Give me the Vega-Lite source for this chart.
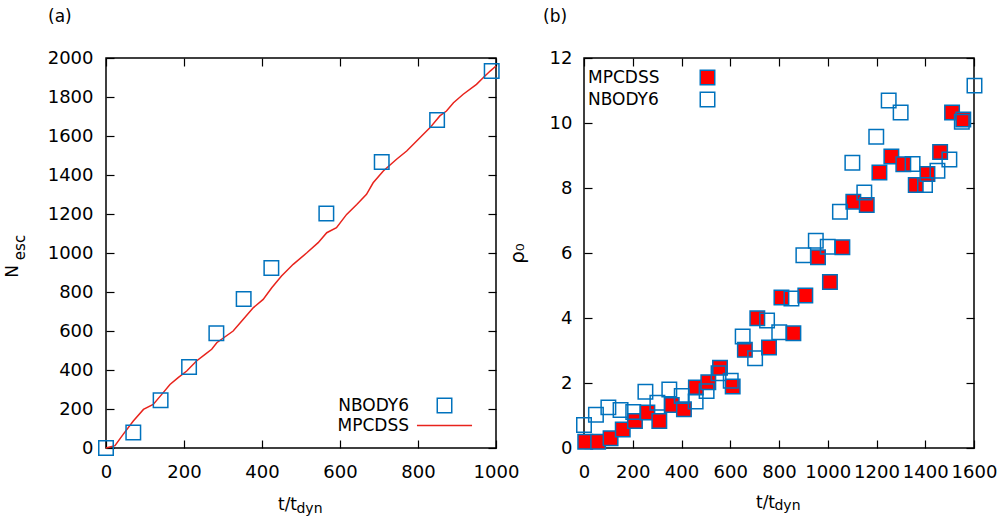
{
  "$schema": "https://vega.github.io/schema/vega-lite/v6.json",
  "autosize": {"type": "pad"},
  "padding": {"left": 2, "top": 7, "right": 5, "bottom": 0},
  "background": "white",
  "spacing": 88,
  "bounds": "flush",
  "datasets": {
    "a_line": [
      {"t": 0, "n": 0, "series": "MPCDSS"},
      {"t": 23, "n": 12, "series": "MPCDSS"},
      {"t": 44, "n": 70, "series": "MPCDSS"},
      {"t": 70, "n": 138, "series": "MPCDSS"},
      {"t": 96, "n": 198, "series": "MPCDSS"},
      {"t": 121, "n": 223, "series": "MPCDSS"},
      {"t": 143, "n": 275, "series": "MPCDSS"},
      {"t": 164, "n": 326, "series": "MPCDSS"},
      {"t": 185, "n": 361, "series": "MPCDSS"},
      {"t": 207, "n": 395, "series": "MPCDSS"},
      {"t": 232, "n": 446, "series": "MPCDSS"},
      {"t": 254, "n": 480, "series": "MPCDSS"},
      {"t": 271, "n": 506, "series": "MPCDSS"},
      {"t": 284, "n": 540, "series": "MPCDSS"},
      {"t": 326, "n": 600, "series": "MPCDSS"},
      {"t": 352, "n": 660, "series": "MPCDSS"},
      {"t": 378, "n": 720, "series": "MPCDSS"},
      {"t": 403, "n": 762, "series": "MPCDSS"},
      {"t": 425, "n": 822, "series": "MPCDSS"},
      {"t": 450, "n": 882, "series": "MPCDSS"},
      {"t": 480, "n": 942, "series": "MPCDSS"},
      {"t": 515, "n": 1001, "series": "MPCDSS"},
      {"t": 544, "n": 1053, "series": "MPCDSS"},
      {"t": 566, "n": 1104, "series": "MPCDSS"},
      {"t": 591, "n": 1130, "series": "MPCDSS"},
      {"t": 617, "n": 1198, "series": "MPCDSS"},
      {"t": 643, "n": 1249, "series": "MPCDSS"},
      {"t": 668, "n": 1301, "series": "MPCDSS"},
      {"t": 685, "n": 1360, "series": "MPCDSS"},
      {"t": 711, "n": 1421, "series": "MPCDSS"},
      {"t": 745, "n": 1481, "series": "MPCDSS"},
      {"t": 771, "n": 1523, "series": "MPCDSS"},
      {"t": 801, "n": 1583, "series": "MPCDSS"},
      {"t": 831, "n": 1643, "series": "MPCDSS"},
      {"t": 856, "n": 1703, "series": "MPCDSS"},
      {"t": 873, "n": 1728, "series": "MPCDSS"},
      {"t": 891, "n": 1771, "series": "MPCDSS"},
      {"t": 916, "n": 1814, "series": "MPCDSS"},
      {"t": 950, "n": 1865, "series": "MPCDSS"},
      {"t": 967, "n": 1899, "series": "MPCDSS"},
      {"t": 985, "n": 1933, "series": "MPCDSS"},
      {"t": 1000, "n": 1959, "series": "MPCDSS"}
    ],
    "a_pts": [
      {"t": 0, "n": 0, "series": "NBODY6"},
      {"t": 70, "n": 80, "series": "NBODY6"},
      {"t": 140, "n": 245, "series": "NBODY6"},
      {"t": 213, "n": 415, "series": "NBODY6"},
      {"t": 283, "n": 588, "series": "NBODY6"},
      {"t": 353, "n": 764, "series": "NBODY6"},
      {"t": 424, "n": 923, "series": "NBODY6"},
      {"t": 565, "n": 1203, "series": "NBODY6"},
      {"t": 707, "n": 1467, "series": "NBODY6"},
      {"t": 849, "n": 1682, "series": "NBODY6"},
      {"t": 989, "n": 1933, "series": "NBODY6"}
    ],
    "b_pts": [
      {"t": 5, "rho": 0.19, "series": "MPCDSS"},
      {"t": 58, "rho": 0.19, "series": "MPCDSS"},
      {"t": 109, "rho": 0.30, "series": "MPCDSS"},
      {"t": 159, "rho": 0.57, "series": "MPCDSS"},
      {"t": 209, "rho": 0.83, "series": "MPCDSS"},
      {"t": 260, "rho": 1.09, "series": "MPCDSS"},
      {"t": 309, "rho": 0.83, "series": "MPCDSS"},
      {"t": 360, "rho": 1.32, "series": "MPCDSS"},
      {"t": 410, "rho": 1.19, "series": "MPCDSS"},
      {"t": 459, "rho": 1.86, "series": "MPCDSS"},
      {"t": 510, "rho": 2.02, "series": "MPCDSS"},
      {"t": 558, "rho": 2.47, "series": "MPCDSS"},
      {"t": 610, "rho": 1.89, "series": "MPCDSS"},
      {"t": 660, "rho": 3.02, "series": "MPCDSS"},
      {"t": 711, "rho": 3.99, "series": "MPCDSS"},
      {"t": 759, "rho": 3.09, "series": "MPCDSS"},
      {"t": 810, "rho": 4.63, "series": "MPCDSS"},
      {"t": 859, "rho": 3.53, "series": "MPCDSS"},
      {"t": 908, "rho": 4.69, "series": "MPCDSS"},
      {"t": 960, "rho": 5.87, "series": "MPCDSS"},
      {"t": 1009, "rho": 5.11, "series": "MPCDSS"},
      {"t": 1060, "rho": 6.18, "series": "MPCDSS"},
      {"t": 1105, "rho": 7.58, "series": "MPCDSS"},
      {"t": 1160, "rho": 7.48, "series": "MPCDSS"},
      {"t": 1212, "rho": 8.48, "series": "MPCDSS"},
      {"t": 1261, "rho": 8.97, "series": "MPCDSS"},
      {"t": 1310, "rho": 8.73, "series": "MPCDSS"},
      {"t": 1361, "rho": 8.09, "series": "MPCDSS"},
      {"t": 1409, "rho": 8.43, "series": "MPCDSS"},
      {"t": 1461, "rho": 9.11, "series": "MPCDSS"},
      {"t": 1510, "rho": 10.32, "series": "MPCDSS"},
      {"t": 1556, "rho": 10.11, "series": "MPCDSS"},
      {"t": 0, "rho": 0.71, "series": "NBODY6"},
      {"t": 49, "rho": 1.02, "series": "NBODY6"},
      {"t": 100, "rho": 1.25, "series": "NBODY6"},
      {"t": 150, "rho": 1.17, "series": "NBODY6"},
      {"t": 202, "rho": 1.11, "series": "NBODY6"},
      {"t": 252, "rho": 1.73, "series": "NBODY6"},
      {"t": 301, "rho": 1.39, "series": "NBODY6"},
      {"t": 350, "rho": 1.80, "series": "NBODY6"},
      {"t": 401, "rho": 1.60, "series": "NBODY6"},
      {"t": 458, "rho": 1.43, "series": "NBODY6"},
      {"t": 503, "rho": 1.75, "series": "NBODY6"},
      {"t": 552, "rho": 2.30, "series": "NBODY6"},
      {"t": 602, "rho": 2.07, "series": "NBODY6"},
      {"t": 651, "rho": 3.43, "series": "NBODY6"},
      {"t": 702, "rho": 2.76, "series": "NBODY6"},
      {"t": 751, "rho": 3.92, "series": "NBODY6"},
      {"t": 801, "rho": 3.56, "series": "NBODY6"},
      {"t": 851, "rho": 4.60, "series": "NBODY6"},
      {"t": 900, "rho": 5.93, "series": "NBODY6"},
      {"t": 951, "rho": 6.38, "series": "NBODY6"},
      {"t": 1000, "rho": 6.19, "series": "NBODY6"},
      {"t": 1050, "rho": 7.27, "series": "NBODY6"},
      {"t": 1101, "rho": 8.78, "series": "NBODY6"},
      {"t": 1150, "rho": 7.86, "series": "NBODY6"},
      {"t": 1199, "rho": 9.58, "series": "NBODY6"},
      {"t": 1250, "rho": 10.69, "series": "NBODY6"},
      {"t": 1299, "rho": 10.32, "series": "NBODY6"},
      {"t": 1348, "rho": 8.74, "series": "NBODY6"},
      {"t": 1399, "rho": 8.09, "series": "NBODY6"},
      {"t": 1450, "rho": 8.53, "series": "NBODY6"},
      {"t": 1499, "rho": 8.88, "series": "NBODY6"},
      {"t": 1550, "rho": 10.04, "series": "NBODY6"},
      {"t": 1602, "rho": 11.15, "series": "NBODY6"}
    ]
  },
  "hconcat": [
    {
      "width": 390,
      "height": 390,
      "title": {"text": "(a)", "frame": "group", "anchor": "start", "dx": -58, "offset": 23},
      "resolve": {"axis": {"x": "independent", "y": "independent"}},
      "layer": [
        {
          "data": {"name": "a_line"},
          "mark": {"type": "line", "strokeWidth": 1.5, "clip": false},
          "encoding": {
            "x": {"field": "t", "type": "quantitative", "scale": {"domain": [0, 1000], "nice": false, "zero": false},
              "axis": {"orient": "bottom", "values": [0, 200, 400, 600, 800, 1000], "format": "d", "ticks": false, "tickSize": 0, "labelPadding": 15, "labelFlush": false, "labelOverlap": false,
                "title": "t/t", "titleX": 181, "titleY": 61, "titleBaseline": "alphabetic", "titleAlign": "center"}},
            "y": {"field": "n", "type": "quantitative", "scale": {"domain": [0, 2000], "nice": false},
              "axis": {"orient": "left", "values": [0, 200, 400, 600, 800, 1000, 1200, 1400, 1600, 1800, 2000], "format": "d", "ticks": false, "tickSize": 0, "labelPadding": 13, "labelFlush": false, "labelOverlap": false,
                "title": "N", "titleX": -89, "titleY": 213, "titleBaseline": "alphabetic", "titleAlign": "center", "titleAngle": 270}},
            "color": {"field": "series", "type": "nominal", "scale": {"domain": ["NBODY6", "MPCDSS"], "range": ["#0072bd", "#e8231c"]},
              "legend": {"title": null, "orient": "none", "legendX": 330, "legendY": 339, "labelAlign": "right", "labelOffset": -44, "symbolSize": 210, "symbolStrokeWidth": 1.5, "labelFontSize": 17, "rowPadding": 0, "padding": 0}}
          }
        },
        {
          "data": {"name": "a_pts"},
          "mark": {"type": "point", "shape": "square", "filled": false, "size": 210, "strokeWidth": 1.5, "opacity": 1},
          "encoding": {
            "x": {"field": "t", "type": "quantitative", "axis": null},
            "y": {"field": "n", "type": "quantitative", "axis": null},
            "color": {"field": "series", "type": "nominal", "scale": {"domain": ["NBODY6", "MPCDSS"], "range": ["#0072bd", "#e8231c"]},
              "legend": {"title": null, "orient": "none", "legendX": 330, "legendY": 339, "labelAlign": "right", "labelOffset": -44, "symbolSize": 210, "symbolStrokeWidth": 1.5, "labelFontSize": 17, "rowPadding": 0, "padding": 0}},
            "shape": {"field": "series", "type": "nominal", "scale": {"domain": ["NBODY6", "MPCDSS"], "range": ["square", "M-3.8,0H3.8"]},
              "legend": {"title": null, "orient": "none", "legendX": 330, "legendY": 339, "labelAlign": "right", "labelOffset": -44, "symbolSize": 210, "symbolStrokeWidth": 1.5, "labelFontSize": 17, "rowPadding": 0, "padding": 0}}
          }
        },
        {
          "data": {"name": "a_pts"},
          "mark": {"type": "point", "opacity": 0},
          "encoding": {
            "x": {"field": "t", "type": "quantitative",
              "axis": {"orient": "top", "values": [0, 200, 400, 600, 800, 1000], "offset": -8, "tickSize": 8, "labels": false, "title": null}},
            "y": {"field": "n", "type": "quantitative",
              "axis": {"orient": "right", "values": [0, 200, 400, 600, 800, 1000, 1200, 1400, 1600, 1800, 2000], "offset": -8, "tickSize": 8, "labels": false, "title": null}}
          }
        },
        {
          "data": {"name": "a_pts"},
          "mark": {"type": "point", "opacity": 0},
          "encoding": {
            "x": {"field": "t", "type": "quantitative",
              "axis": {"orient": "bottom", "values": [0, 200, 400, 600, 800, 1000], "offset": -8, "tickSize": 8, "labels": false,
                "title": "dyn", "titleFontSize": 14, "titleX": 203, "titleY": 72, "titleBaseline": "alphabetic", "titleAlign": "center"}},
            "y": {"field": "n", "type": "quantitative",
              "axis": {"orient": "left", "values": [0, 200, 400, 600, 800, 1000, 1200, 1400, 1600, 1800, 2000], "offset": -8, "tickSize": 8, "labels": false,
                "title": "esc", "titleFontSize": 15, "titleX": -90, "titleY": 189, "titleBaseline": "alphabetic", "titleAlign": "center", "titleAngle": 270}}
          }
        }
      ]
    },
    {
      "width": 390,
      "height": 390,
      "title": {"text": "(b)", "frame": "group", "anchor": "start", "dx": -41, "offset": 23},
      "resolve": {"axis": {"x": "independent", "y": "independent"}},
      "layer": [
        {
          "data": {"name": "b_pts"},
          "mark": {"type": "point", "shape": "square", "filled": true, "size": 210, "stroke": "#0072bd", "strokeWidth": 1.5, "opacity": 1},
          "encoding": {
            "x": {"field": "t", "type": "quantitative", "scale": {"domain": [0, 1600], "nice": false, "zero": false},
              "axis": {"orient": "bottom", "values": [0, 200, 400, 600, 800, 1000, 1200, 1400, 1600], "format": "d", "ticks": false, "tickSize": 0, "labelPadding": 15, "labelFlush": false, "labelOverlap": false,
                "title": "t/t", "titleX": 181, "titleY": 59, "titleBaseline": "alphabetic", "titleAlign": "center"}},
            "y": {"field": "rho", "type": "quantitative", "scale": {"domain": [0, 12], "nice": false},
              "axis": {"orient": "left", "values": [0, 2, 4, 6, 8, 10, 12], "format": "d", "ticks": false, "tickSize": 0, "labelPadding": 12, "labelFlush": false, "labelOverlap": false,
                "title": "ρ₀", "titleFontSize": 20, "titleX": -61, "titleY": 195, "titleBaseline": "alphabetic", "titleAlign": "center", "titleAngle": 270}},
            "fill": {"field": "series", "type": "nominal", "scale": {"domain": ["MPCDSS", "NBODY6"], "range": ["#ff0000", "transparent"]},
              "legend": {"title": null, "orient": "none", "legendX": 115, "legendY": 11, "labelAlign": "left", "labelOffset": -128, "symbolSize": 210, "symbolStrokeWidth": 1.5, "symbolStrokeColor": "#0072bd", "labelFontSize": 17, "rowPadding": 1, "padding": 0}}
          }
        },
        {
          "data": {"name": "b_pts"},
          "mark": {"type": "point", "opacity": 0},
          "encoding": {
            "x": {"field": "t", "type": "quantitative",
              "axis": {"orient": "top", "values": [0, 200, 400, 600, 800, 1000, 1200, 1400, 1600], "offset": -8, "tickSize": 8, "labels": false, "title": null}},
            "y": {"field": "rho", "type": "quantitative",
              "axis": {"orient": "right", "values": [0, 2, 4, 6, 8, 10, 12], "offset": -8, "tickSize": 8, "labels": false, "title": null}}
          }
        },
        {
          "data": {"name": "b_pts"},
          "mark": {"type": "point", "opacity": 0},
          "encoding": {
            "x": {"field": "t", "type": "quantitative",
              "axis": {"orient": "bottom", "values": [0, 200, 400, 600, 800, 1000, 1200, 1400, 1600], "offset": -8, "tickSize": 8, "labels": false,
                "title": "dyn", "titleFontSize": 14, "titleX": 203, "titleY": 69, "titleBaseline": "alphabetic", "titleAlign": "center"}},
            "y": {"field": "rho", "type": "quantitative",
              "axis": {"orient": "left", "values": [0, 2, 4, 6, 8, 10, 12], "offset": -8, "tickSize": 8, "labels": false, "title": null}}
          }
        }
      ]
    }
  ],
  "resolve": {
    "scale": {"color": "independent", "fill": "independent", "shape": "independent"},
    "legend": {"color": "independent", "fill": "independent", "shape": "independent"}
  },
  "config": {
    "font": "DejaVu Sans",
    "view": {"stroke": "black", "strokeWidth": 1.5},
    "axis": {
      "labelFont": "DejaVu Sans", "labelFontSize": 18, "labelColor": "black",
      "titleFont": "DejaVu Sans", "titleFontSize": 17, "titleFontWeight": "normal", "titleColor": "black",
      "grid": false, "domain": false, "tickColor": "black", "tickWidth": 1.2
    },
    "legend": {"labelFont": "DejaVu Sans", "labelColor": "black"},
    "title": {"font": "DejaVu Sans", "fontSize": 17, "fontWeight": "normal", "color": "black"}
  }
}
